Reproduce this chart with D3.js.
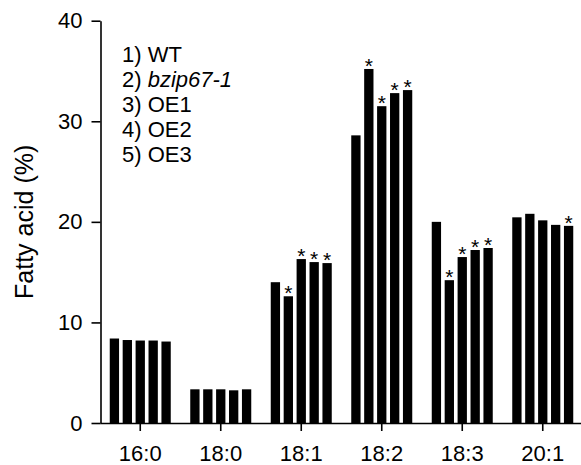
<!DOCTYPE html>
<html>
<head>
<meta charset="utf-8">
<script src="https://cdn.jsdelivr.net/npm/d3@7"></script>
<style>
  body { margin: 0; background: #fff; }
  svg { display: block; font-family: "Liberation Sans", Arial, sans-serif; }
</style>
</head>
<body>
<div id="app"></div>
<script>
// fatty acid species on the x axis
const categories = ['16:0', '18:0', '18:1', '18:2', '18:3', '20:1'];
const lines = ['WT', 'bzip67-1', 'OE1', 'OE2', 'OE3'];

// percent of total, one array per line, in category order
const wt      = [8.4, 3.35, 14.0, 28.6, 20.0, 20.45];
const bzip671 = [8.25, 3.35, 12.6, 35.2, 14.2, 20.8];
const oe1     = [8.2, 3.35, 16.3, 31.5, 16.5, 20.15];
const oe2     = [8.2, 3.25, 16.0, 32.8, 17.2, 19.7];
const oe3     = [8.1, 3.35, 15.9, 33.1, 17.4, 19.6];

// 1 = marked with an asterisk
const starWt   = [0, 0, 0, 0, 0, 0];
const starBzip = [0, 0, 1, 1, 1, 0];
const starOe1  = [0, 0, 1, 1, 1, 0];
const starOe2  = [0, 0, 1, 1, 1, 0];
const starOe3  = [0, 0, 1, 1, 1, 1];

const yTicks = [0, 10, 20, 30, 40];

const seriesVals = [wt, bzip671, oe1, oe2, oe3];
const seriesStars = [starWt, starBzip, starOe1, starOe2, starOe3];

const W = 581, H = 465;
const svg = d3.select('#app').append('svg')
  .attr('width', W)
  .attr('height', H);

const x0 = d3.scaleBand().domain(categories).range([100, 583]).padding(0);
const groupW = 61;
const x1 = d3.scaleBand().domain(d3.range(lines.length))
  .range([-groupW / 2, groupW / 2])
  .paddingInner(0.28)
  .paddingOuter(0);
const y = d3.scaleLinear().domain([0, 40]).range([423, 20.7]);

const rows = [];
categories.forEach((c, ci) => {
  seriesVals.forEach((vals, si) => {
    rows.push({cat: c, s: si, v: vals[ci], star: seriesStars[si][ci]});
  });
});

const bx = d => x0(d.cat) + x0.bandwidth() / 2 + x1(d.s);

svg.append('g').selectAll('rect')
  .data(rows)
  .join('rect')
  .attr('x', bx)
  .attr('width', x1.bandwidth())
  .attr('y', d => y(d.v))
  .attr('height', d => y(0) - y(d.v))
  .attr('fill', '#000');

svg.append('g').selectAll('text')
  .data(rows.filter(d => d.star))
  .join('text')
  .attr('x', d => bx(d) + x1.bandwidth() / 2)
  .attr('y', d => y(d.v) + 4)
  .attr('text-anchor', 'middle')
  .attr('font-size', 21)
  .text('*');

// axes
const yAxis = svg.append('g')
  .attr('transform', 'translate(100.5,0)')
  .call(d3.axisLeft(y).tickValues(yTicks).tickSize(9).tickPadding(9).tickSizeOuter(0));

const xAxis = svg.append('g')
  .attr('transform', 'translate(0,423)')
  .call(d3.axisBottom(x0).tickSize(8).tickPadding(14).tickSizeOuter(0));

[yAxis, xAxis].forEach(g => {
  g.selectAll('path, line').attr('stroke', '#000').attr('stroke-width', 1.6);
  g.selectAll('text').attr('fill', '#000').attr('font-size', 22)
    .attr('font-family', '"Liberation Sans", Arial, sans-serif');
});

svg.append('text')
  .attr('transform', 'translate(33,' + (y(20)) + ') rotate(-90)')
  .attr('text-anchor', 'middle')
  .attr('font-size', 25)
  .text('Fatty acid (%)');

// legend
const legend = svg.append('g').attr('font-size', 22);
lines.forEach((name, i) => {
  const t = legend.append('text')
    .attr('x', 122)
    .attr('y', 62 + i * 25);
  t.append('tspan').text((i + 1) + ') ');
  t.append('tspan')
    .attr('font-style', name === 'bzip67-1' ? 'italic' : 'normal')
    .text(name);
});
</script>
</body>
</html>
